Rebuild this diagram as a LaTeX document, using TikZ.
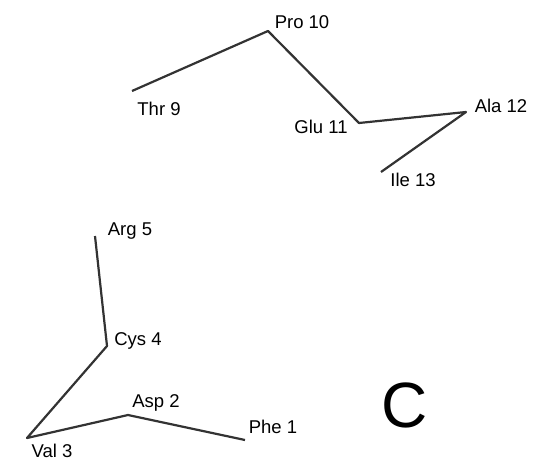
\documentclass[tikz,border=0pt]{standalone}
\usepackage{fontspec}
\setmainfont{Liberation Sans}

\begin{document}
\begin{tikzpicture}[
  x=1pt, y=-1pt,
  res/.style={inner sep=0pt, anchor=center, font=\fontsize{18.5}{18.5}\selectfont},
  bond/.style={draw=black!80, line width=2.2pt, line join=round},
]
  \useasboundingbox (0,0) rectangle (551,463);
  % upper fragment
  \coordinate (thr) at (132,91);
  \coordinate (pro) at (268,31);
  \coordinate (glu) at (359,123);
  \coordinate (ala) at (466,112);
  \coordinate (ile) at (381,172);
  \node[res] (thrlab) at (159,109) {Thr 9};
  \node[res] (prolab) at (302,22) {Pro 10};
  \node[res] (glulab) at (321,127) {Glu 11};
  \node[res] (alalab) at (501,106) {Ala 12};
  \node[res] (ilelab) at (413,180) {Ile 13};
  \draw[bond] (thr) -- (pro) -- (glu) -- (ala) -- (ile);
  % lower fragment
  \coordinate (arg) at (95,236);
  \coordinate (cys) at (107,346);
  \coordinate (val) at (27,438);
  \coordinate (asp) at (128,415);
  \coordinate (phe) at (245,440);
  \node[res] (arglab) at (130,231) {Arg 5};
  \node[res] (cyslab) at (138,341) {Cys 4};
  \node[res] (asplab) at (156,403) {Asp 2};
  \node[res] (phelab) at (273,427) {Phe 1};
  \node[res] (vallab) at (52,451) {Val 3};
  \draw[bond] (arg) -- (cys) -- (val) -- (asp) -- (phe);
  % panel letter
  \node[inner sep=0pt, font=\fontsize{64}{64}\selectfont] (panel) at (405,405) {C};
\end{tikzpicture}
\end{document}
